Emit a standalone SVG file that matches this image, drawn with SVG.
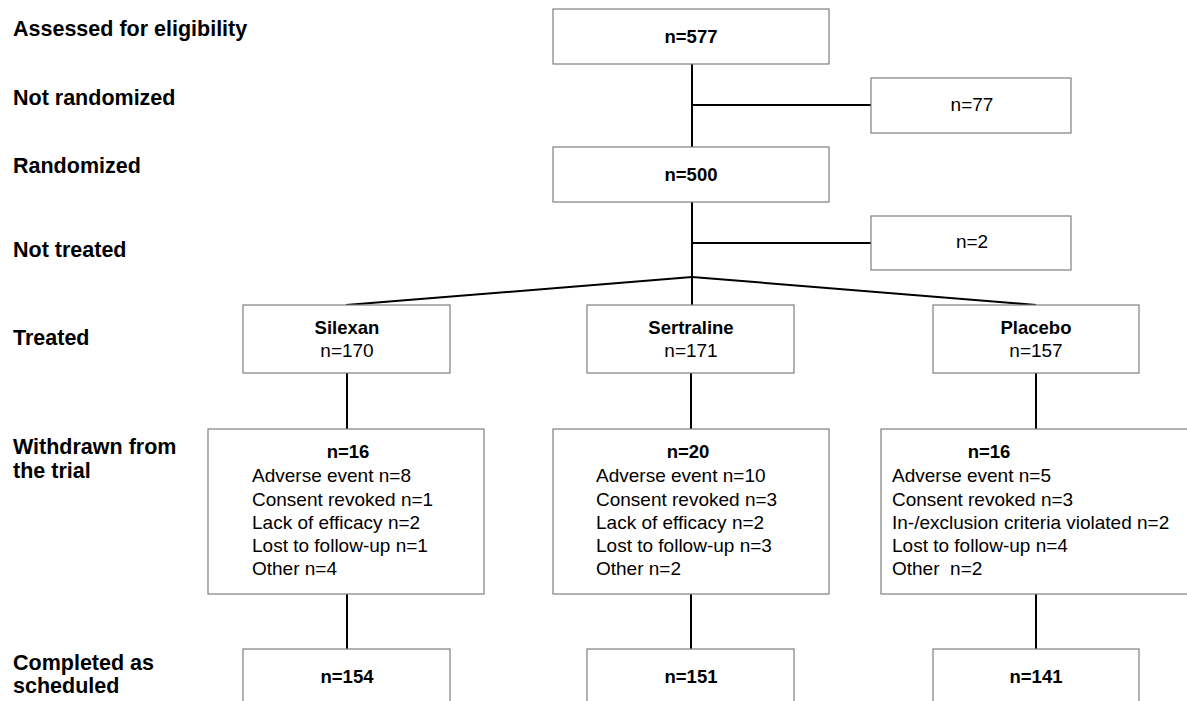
<svg xmlns="http://www.w3.org/2000/svg" width="1187" height="701" viewBox="0 0 1187 701">
<style>
.box{fill:#fff;stroke:#7f7f7f;stroke-width:1.2}
.ln{stroke:#000;stroke-width:2;fill:none}
.lbl{font-family:"Liberation Sans",Arial,sans-serif;font-weight:bold;font-size:21.5px;fill:#000}
.b{font-family:"Liberation Sans",Arial,sans-serif;font-weight:bold;font-size:18.5px;fill:#000}
.r{font-family:"Liberation Sans",Arial,sans-serif;font-size:19px;fill:#000}
.c{text-anchor:middle}
</style>
<rect width="1187" height="701" fill="#fff"/>
<g id="labels">
<text class="lbl" x="13" y="36">Assessed for eligibility</text>
<text class="lbl" x="13" y="105">Not randomized</text>
<text class="lbl" x="13" y="173">Randomized</text>
<text class="lbl" x="13" y="257">Not treated</text>
<text class="lbl" x="13" y="345">Treated</text>
<text class="lbl" x="13" y="454">Withdrawn from</text>
<text class="lbl" x="13" y="478">the trial</text>
<text class="lbl" x="13" y="670">Completed as</text>
<text class="lbl" x="13" y="693">scheduled</text>
</g>
<g id="connectors">
<line class="ln" x1="692" y1="64" x2="692" y2="147"/>
<line class="ln" x1="692" y1="105" x2="871" y2="105"/>
<line class="ln" x1="692" y1="202" x2="692" y2="305"/>
<line class="ln" x1="692" y1="243" x2="871" y2="243"/>
<line class="ln" x1="692" y1="277" x2="346" y2="305"/>
<line class="ln" x1="692" y1="277" x2="1036" y2="305"/>
<line class="ln" x1="347" y1="373" x2="347" y2="429"/>
<line class="ln" x1="347" y1="594" x2="347" y2="649"/>
<line class="ln" x1="691" y1="373" x2="691" y2="429"/>
<line class="ln" x1="691" y1="594" x2="691" y2="649"/>
<line class="ln" x1="1036" y1="373" x2="1036" y2="429"/>
<line class="ln" x1="1036" y1="594" x2="1036" y2="649"/>
</g>
<g id="assessed">
<rect class="box" x="553" y="9" width="276" height="55"/>
<text class="b c" x="691" y="43">n=577</text>
</g>
<g id="notrandomized">
<rect class="box" x="871" y="78" width="200" height="55"/>
<text class="r c" x="972" y="111">n=77</text>
</g>
<g id="randomized">
<rect class="box" x="553" y="147" width="276" height="55"/>
<text class="b c" x="691" y="181">n=500</text>
</g>
<g id="nottreated">
<rect class="box" x="871" y="216" width="200" height="54"/>
<text class="r c" x="972" y="248">n=2</text>
</g>
<g id="silexan">
<rect class="box" x="243" y="305" width="207" height="68"/>
<text class="b c" x="347" y="334">Silexan</text>
<text class="r c" x="347" y="357">n=170</text>
</g>
<g id="sertraline">
<rect class="box" x="587" y="305" width="207" height="68"/>
<text class="b c" x="691" y="334">Sertraline</text>
<text class="r c" x="691" y="357">n=171</text>
</g>
<g id="placebo">
<rect class="box" x="933" y="305" width="206" height="68"/>
<text class="b c" x="1036" y="334">Placebo</text>
<text class="r c" x="1036" y="357">n=157</text>
</g>
<g id="withdrawn-silexan">
<rect class="box" x="208" y="429" width="276" height="165"/>
<text class="b c" x="348" y="458">n=16</text>
<text class="r" x="252" y="482">Adverse event n=8</text>
<text class="r" x="252" y="505.5">Consent revoked n=1</text>
<text class="r" x="252" y="529">Lack of efficacy n=2</text>
<text class="r" x="252" y="552">Lost to follow-up n=1</text>
<text class="r" x="252" y="575">Other n=4</text>
</g>
<g id="withdrawn-sertraline">
<rect class="box" x="553" y="429" width="276" height="165"/>
<text class="b c" x="688" y="458">n=20</text>
<text class="r" x="596" y="482">Adverse event n=10</text>
<text class="r" x="596" y="505.5">Consent revoked n=3</text>
<text class="r" x="596" y="529">Lack of efficacy n=2</text>
<text class="r" x="596" y="552">Lost to follow-up n=3</text>
<text class="r" x="596" y="575">Other n=2</text>
</g>
<g id="withdrawn-placebo">
<rect class="box" x="881" y="429" width="320" height="165"/>
<text class="b c" x="989" y="458">n=16</text>
<text class="r" x="892" y="482">Adverse event n=5</text>
<text class="r" x="892" y="505.5">Consent revoked n=3</text>
<text class="r" x="892" y="529">In-/exclusion criteria violated n=2</text>
<text class="r" x="892" y="552">Lost to follow-up n=4</text>
<text class="r" x="892" y="575" xml:space="preserve">Other  n=2</text>
</g>
<g id="completed-silexan">
<rect class="box" x="243" y="649" width="207" height="70"/>
<text class="b c" x="347" y="683">n=154</text>
</g>
<g id="completed-sertraline">
<rect class="box" x="587" y="649" width="207" height="70"/>
<text class="b c" x="691" y="683">n=151</text>
</g>
<g id="completed-placebo">
<rect class="box" x="933" y="649" width="206" height="70"/>
<text class="b c" x="1036" y="683">n=141</text>
</g>
</svg>
